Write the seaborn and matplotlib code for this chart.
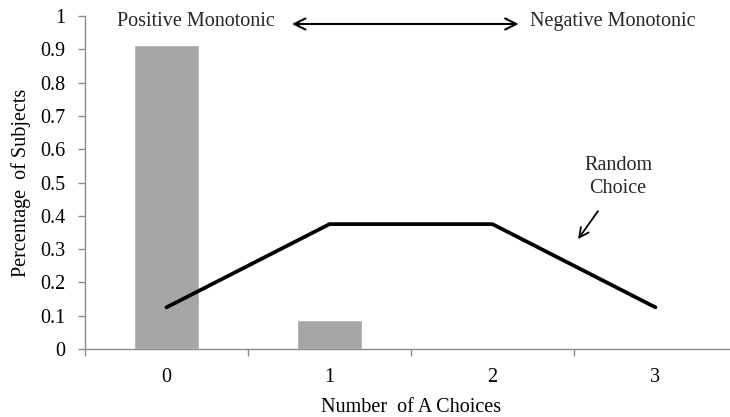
import matplotlib
matplotlib.use("Agg")
import matplotlib.pyplot as plt
import seaborn as sns
import pandas as pd
from matplotlib.ticker import FixedLocator, FuncFormatter

categories = ["0", "1", "2", "3"]
subjects = [0.912, 0.087, 0.0, 0.0]
random_choice = [0.125, 0.375, 0.375, 0.125]
y_ticks = [0, 0.1, 0.2, 0.3, 0.4, 0.5, 0.6, 0.7, 0.8, 0.9, 1.0]

sns.set_theme(style="white")
plt.rcParams["font.family"] = ["Liberation Serif", "DejaVu Serif"]
FS = 14.5

fig = plt.figure(figsize=(7.3, 4.17), dpi=100)
ax = fig.add_axes([85 / 730, 1 - 349 / 417, 652 / 730, 333 / 417])

df = pd.DataFrame({"cat": categories, "val": subjects})
sns.barplot(data=df, x="cat", y="val", color="#a6a6a6", saturation=1, width=0.4, ax=ax)
sns.lineplot(x=list(range(len(categories))), y=random_choice, color="black", linewidth=2.7,
             ax=ax, solid_capstyle="round")

ax.set_xlim(-0.5, 3.5)
ax.set_ylim(0, 1)
axis_col = "#8c8c8c"
for s in ["top", "right"]:
    ax.spines[s].set_visible(False)
for s in ["left", "bottom"]:
    ax.spines[s].set_color(axis_col)
    ax.spines[s].set_linewidth(1.0)

ax.yaxis.set_major_locator(FixedLocator(y_ticks))
ax.yaxis.set_major_formatter(FuncFormatter(lambda v, p: f"{v:g}"))
ax.tick_params(axis="y", which="major", direction="out", length=5, width=1, color=axis_col,
               labelsize=FS, pad=9, left=True, labelcolor="black")
ax.set_xticks(range(len(categories)))
ax.set_xticklabels(categories)
ax.set_xticks([-0.5, 0.5, 1.5, 2.5, 3.5], minor=True)
ax.tick_params(axis="x", which="major", length=0, labelsize=FS, pad=14, labelcolor="black")
ax.tick_params(axis="x", which="minor", direction="out", length=5, width=1, color=axis_col,
               bottom=True)

ax.set_xlabel("Number  of A Choices", fontsize=FS, color="black")
ax.set_ylabel("Percentage  of Subjects", fontsize=FS, color="black")
ax.xaxis.set_label_coords(0.5, -0.148)
ax.yaxis.set_label_coords(-0.083, 0.5)

ax.text(-0.304, 0.982, "Positive Monotonic", fontsize=FS, ha="left", va="center")
ax.text(2.23, 0.982, "Negative Monotonic", fontsize=FS, ha="left", va="center")
ax.annotate("", xy=(0.77, 0.976), xytext=(2.16, 0.976),
            arrowprops=dict(arrowstyle="<->", color="black", lw=1.5, mutation_scale=20,
                            shrinkA=0, shrinkB=0))
ax.text(2.77, 0.516, "Random\nChoice", fontsize=FS, ha="center", va="center", linespacing=1.25)
ax.annotate("", xy=(2.525, 0.33), xytext=(2.647, 0.414),
            arrowprops=dict(arrowstyle="->", color="black", lw=1.3, mutation_scale=17,
                            shrinkA=0, shrinkB=0))

fig.savefig("out.png", dpi=100)
